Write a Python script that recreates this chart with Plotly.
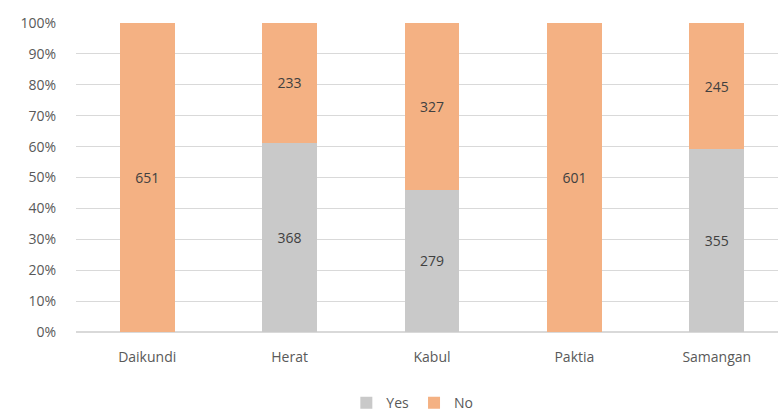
import plotly.graph_objects as go

provinces = ["Daikundi", "Herat", "Kabul", "Paktia", "Samangan"]
yes_counts = [0, 368, 279, 0, 355]
no_counts = [651, 233, 327, 601, 245]

font_family = "Open Sans, Liberation Sans, sans-serif"
text_color = "#595959"


def labels(vals):
    return [str(v) if v else "" for v in vals]


fig = go.Figure()
fig.add_trace(go.Bar(
    name="Yes", x=provinces, y=yes_counts,
    text=labels(yes_counts), textposition="inside", insidetextanchor="middle",
    marker=dict(color="#C9C9C9", line=dict(width=0)),
    textfont=dict(color="#404040", size=14, family=font_family),
))
fig.add_trace(go.Bar(
    name="No", x=provinces, y=no_counts,
    text=labels(no_counts), textposition="inside", insidetextanchor="middle",
    marker=dict(color="#F4B183", line=dict(width=0)),
    textfont=dict(color="#404040", size=14, family=font_family),
))

fig.update_layout(
    width=778, height=411,
    barmode="stack", barnorm="percent", bargap=0.614,
    paper_bgcolor="white", plot_bgcolor="white",
    margin=dict(l=76, r=0, t=23, b=79, autoexpand=False),
    font=dict(family=font_family, size=14, color=text_color),
    uniformtext=dict(mode="show", minsize=10),
    legend=dict(
        orientation="h", x=0.53, xanchor="center", xref="container",
        y=-0.23, yanchor="middle", yref="paper",
        itemwidth=30, font=dict(size=14, color=text_color), traceorder="normal",
    ),
    xaxis=dict(
        range=[-0.5, 4.43], showgrid=False, showline=False,
        ticks="outside", ticklen=12, tickcolor="rgba(0,0,0,0)",
        tickfont=dict(size=14, color=text_color), automargin=False,
    ),
    yaxis=dict(
        range=[0, 100], dtick=10, ticksuffix="%", showgrid=True,
        gridcolor="#D9D9D9", gridwidth=1, zeroline=True, zerolinecolor="#D9D9D9",
        showline=False, ticks="outside", ticklen=16, tickcolor="rgba(0,0,0,0)",
        tickfont=dict(size=14, color=text_color), automargin=False,
    ),
)

fig.write_html("out.html")
